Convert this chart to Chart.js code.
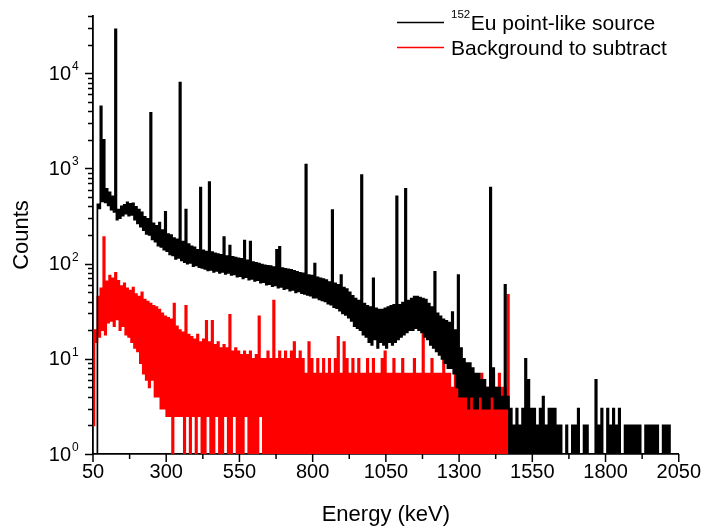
<!DOCTYPE html>
<html>
<head>
<meta charset="utf-8">
<title>152Eu spectrum</title>
<script src="https://cdn.jsdelivr.net/npm/chart.js@4.4.1/dist/chart.umd.min.js"></script>
<style>
html,body{margin:0;padding:0;background:#fff;}
canvas{display:block;}
</style>
</head>
<body>
<canvas id="chart" width="707" height="530"></canvas>
<script>
// Energy grid (keV), one entry per read-off cell
const energy = [
  50,60,70,80,90,100,110,120,130,140,
  150,160,170,180,190,200,210,220,230,240,
  250,260,270,280,290,300,310,320,330,340,
  350,360,370,380,390,400,410,420,430,440,
  450,460,470,480,490,500,510,520,530,540,
  550,560,570,580,590,600,610,620,630,640,
  650,660,670,680,690,700,710,720,730,740,
  750,760,770,780,790,800,810,820,830,840,
  850,860,870,880,890,900,910,920,930,940,
  950,960,970,980,990,1000,1010,1020,1030,1040,
  1050,1060,1070,1080,1090,1100,1110,1120,1130,1140,
  1150,1160,1170,1180,1190,1200,1210,1220,1230,1240,
  1250,1260,1270,1280,1290,1300,1310,1320,1330,1340,
  1350,1360,1370,1380,1390,1400,1410,1420,1430,1440,
  1450,1460,1470,1480,1490,1500,1510,1520,1530,1540,
  1550,1560,1570,1580,1590,1600,1610,1620,1630,1640,
  1650,1660,1670,1680,1690,1700,1710,1720,1730,1740,
  1750,1760,1770,1780,1790,1800,1810,1820,1830,1840,
  1850,1860,1870,1880,1890,1900,1910,1920,1930,1940,
  1950,1960,1970,1980,1990,2000,2010,2020,2030,2040,
  2050
];

// 152Eu point-like source: lower / upper edge of the counts in each cell (0.5 = no counts)
const sourceLow = [
  0.5,0.5,380,450,440,410,370,350,290,300,
  320,335,320,325,290,265,245,225,205,200,
  180,170,155,150,140,135,125,122,112,115,
  108,104,100,102,94,96,92,90,88,85,
  86,82,84,80,82,78,80,76,77,73,
  74,70,72,68,69,66,67,63,64,60,
  61,58,59,56,57,54,55,52,53,50,
  51,49,48,47,46,44,44,42,41,40,
  38,37,35,34,32,30,29,27,25,22,
  21,20,18,17,15,14,16,13,15,14,
  13,15,14,15,16,17,18,19,20,20,
  21,20,19,17,16,14,13,12,11,10,
  9,8,8,7,5,4,4,4,3,4,
  3,3,4,3,3,3,4,3,3,3,
  3,3,0.5,0.5,0.5,0.5,0.5,0.5,0.5,0.5,
  0.5,0.5,0.5,0.5,0.5,0.5,0.5,0.5,0.5,0.5,
  0.5,0.5,0.5,0.5,0.5,0.5,0.5,0.5,0.5,0.5,
  0.5,0.5,0.5,0.5,0.5,0.5,0.5,0.5,0.5,0.5,
  0.5,0.5,0.5,0.5,0.5,0.5,0.5,0.5,0.5,0.5,
  0.5,0.5,0.5,0.5,0.5,0.5,0.5,0.5,0.5,0.5,
  0.5
];
const sourceHigh = [
  0.5,420,4500,2000,610,560,510,29000,370,400,
  415,440,425,430,395,370,345,310,295,3850,
  265,250,270,225,350,205,200,185,180,8000,
  170,370,160,152,148,140,630,138,134,720,
  132,128,126,124,190,120,155,118,116,114,
  112,175,108,170,104,102,100,98,96,95,
  94,92,140,150,90,88,87,86,84,82,
  80,79,1100,76,75,100,72,70,69,67,
  64,365,62,60,76,56,54,50,46,43,
  41,850,38,36,35,70,34,33,33,34,
  35,36,37,510,37,39,610,41,43,45,
  45,44,43,42,38,35,82,30,28,26,
  25,24,31,20,76,13,10,9,9,8,
  7,7,6,6,5,630,8,5,5,4,
  60,4,3,2,3,2,3,10,6,3,
  3,2,3,4,2,3,3,3,2,2,
  0.5,2,0.5,2,2,3,0.5,2,2,0.5,
  0.5,6,2,3,0.5,3,2,3,2,3,
  0.5,2,2,2,2,2,2,0.5,2,2,
  2,2,2,0.5,2,2,2,0.5,0.5,0.5,
  0.5
];

// Background to subtract
const backgroundLow = [
  2,15,17,20,18,24,25,22,26,20,
  22,18,17,15,13,12,9,7,6,5,
  6,4,4,3,3,2.5,2.5,0.5,2.5,2.5,
  2.5,0.5,2.5,0.5,2.5,0.5,2.5,0.5,0.5,2.5,
  0.5,0.5,2.5,0.5,0.5,2.5,0.5,0.5,2.5,0.5,
  0.5,0.5,2.5,0.5,0.5,0.5,0.5,2.5,0.5,0.5,
  0.5,0.5,0.5,0.5,0.5,0.5,0.5,0.5,0.5,0.5,
  0.5,0.5,0.5,0.5,0.5,0.5,0.5,0.5,0.5,0.5,
  0.5,0.5,0.5,0.5,0.5,0.5,0.5,0.5,0.5,0.5,
  0.5,0.5,0.5,0.5,0.5,0.5,0.5,0.5,0.5,0.5,
  0.5,0.5,0.5,0.5,0.5,0.5,0.5,0.5,0.5,0.5,
  0.5,0.5,0.5,0.5,0.5,0.5,0.5,0.5,0.5,0.5,
  0.5,0.5,0.5,0.5,0.5,0.5,0.5,0.5,0.5,0.5,
  0.5,0.5,0.5,0.5,0.5,0.5,0.5,0.5,0.5,0.5,
  0.5,0.5,0.5,0.5,0.5,0.5,0.5,0.5,0.5,0.5,
  0.5,0.5,0.5,0.5,0.5,0.5,0.5,0.5,0.5,0.5,
  0.5,0.5,0.5,0.5,0.5,0.5,0.5,0.5,0.5,0.5,
  0.5,0.5,0.5,0.5,0.5,0.5,0.5,0.5,0.5,0.5,
  0.5,0.5,0.5,0.5,0.5,0.5,0.5,0.5,0.5,0.5,
  0.5,0.5,0.5,0.5,0.5,0.5,0.5,0.5,0.5,0.5,
  0.5
];
const backgroundHigh = [
  20,45,55,190,65,75,70,80,66,58,
  62,55,52,56,48,45,50,42,40,38,
  36,35,33,30,28,27,26,38,22,20,
  19,36,18,17,16,18,15,16,25,15,
  25,14,15,13,14,13,29,12,13,12,
  11,12,11,12,10,11,28,10,10,12,
  10,41,10,12,10,12,10,12,15,10,
  12,10,7,15,10,7,10,7,10,7,
  10,7,10,17,7,15,10,7,10,7,
  10,7,7,10,7,10,7,7,10,12,
  7,7,10,7,7,10,7,7,7,10,
  7,7,20,7,7,10,7,7,7,10,
  7,7,5,7,5,5,7,5,5,7,
  5,5,7,5,5,5,7,5,7,5,
  5,47,0.5,0.5,0.5,0.5,0.5,0.5,0.5,0.5,
  0.5,0.5,0.5,0.5,0.5,0.5,0.5,0.5,0.5,0.5,
  0.5,0.5,0.5,0.5,0.5,0.5,0.5,0.5,0.5,0.5,
  0.5,0.5,0.5,0.5,0.5,0.5,0.5,0.5,0.5,0.5,
  0.5,0.5,0.5,0.5,0.5,0.5,0.5,0.5,0.5,0.5,
  0.5,0.5,0.5,0.5,0.5,0.5,0.5,0.5,0.5,0.5,
  0.5
];

const seriesNames = ['Eu point-like source', 'Background to subtract'];
const seriesSuperscripts = ['152', ''];
const seriesColors = ['#000000', '#ff0000'];
const yTickValues = [1, 10, 100, 1000, 10000];
const yTickBase = ['10', '10', '10', '10', '10'];
const yTickExponents = ['0', '1', '2', '3', '4'];
const xTitle = 'Energy (keV)';
const yTitle = 'Counts';

[sourceLow, sourceHigh, backgroundLow, backgroundHigh].forEach(a => {
  if (a.length !== energy.length) throw new Error('length mismatch ' + a.length);
});

const FONT = '"Liberation Sans", Arial, Helvetica, sans-serif';

function spectrumPoints(E, lo, hi) {
  const half = (E[1] - E[0]) / 2;
  const pts = [];
  for (let i = 0; i < E.length; i++) {
    pts.push({x: E[i], y: lo[i]});
    pts.push({x: E[i] + half, y: hi[i]});
  }
  return pts;
}

const decor = {
  id: 'decor',
  afterDraw(chart) {
    const {ctx, chartArea: a, scales: {x, y}} = chart;
    ctx.save();
    ctx.strokeStyle = '#000';
    ctx.lineWidth = 1.5;
    const seg = (x1, y1, x2, y2) => { ctx.beginPath(); ctx.moveTo(x1, y1); ctx.lineTo(x2, y2); ctx.stroke(); };
    // x ticks (major + minor between)
    const xt = x.ticks.map(t => t.value);
    xt.forEach(v => { const p = x.getPixelForValue(v); seg(p, a.bottom, p, a.bottom + 8); });
    for (let i = 0; i < xt.length - 1; i++) {
      const p = x.getPixelForValue((xt[i] + xt[i + 1]) / 2);
      seg(p, a.bottom, p, a.bottom + 5);
    }
    // y ticks
    for (let d = 0; d <= 4; d++) {
      for (let m = 1; m <= 9; m++) {
        const v = m * Math.pow(10, d);
        if (v > y.max + 1e-6) continue;
        const p = Math.round(y.getPixelForValue(v)) + 0.5;
        seg(a.left, p, a.left - (m === 1 ? 8 : 5), p);
      }
    }
    // y tick labels with superscript exponent
    ctx.fillStyle = '#000';
    yTickValues.forEach((v, i) => {
      const p = y.getPixelForValue(v);
      ctx.font = '20px ' + FONT;
      ctx.textAlign = 'right';
      ctx.textBaseline = 'middle';
      ctx.fillText(yTickBase[i], 71, p + 1);
      ctx.font = '12px ' + FONT;
      ctx.textAlign = 'left';
      ctx.textBaseline = 'alphabetic';
      ctx.fillText(yTickExponents[i], 72, p - 3);
    });
    // legend
    const rows = [22.5, 47.5];
    rows.forEach((ry, i) => {
      ctx.fillStyle = seriesColors[i];
      ctx.fillRect(397, ry - 0.75, 47, 1.5);
      let tx = 451;
      ctx.fillStyle = '#000';
      ctx.textAlign = 'left';
      ctx.textBaseline = 'alphabetic';
      if (seriesSuperscripts[i]) {
        ctx.font = '11.5px ' + FONT;
        ctx.fillText(seriesSuperscripts[i], tx, ry - 5);
        tx += ctx.measureText(seriesSuperscripts[i]).width + 0.5;
      }
      ctx.font = '21px ' + FONT;
      ctx.fillText(seriesNames[i], tx, ry + 7.5);
    });
    ctx.restore();
  }
};

new Chart(document.getElementById('chart').getContext('2d'), {
  type: 'line',
  data: {
    datasets: [
      {
        label: seriesSuperscripts[0] + seriesNames[0],
        data: spectrumPoints(energy, sourceLow, sourceHigh),
        borderColor: seriesColors[0], borderWidth: 1.7,
        pointRadius: 0, stepped: true, fill: false, tension: 0
      },
      {
        label: seriesNames[1],
        data: spectrumPoints(energy, backgroundLow, backgroundHigh),
        borderColor: seriesColors[1], borderWidth: 1.7,
        pointRadius: 0, stepped: true, fill: false, tension: 0
      }
    ]
  },
  options: {
    responsive: false,
    animation: false,
    events: [],
    layout: {padding: {top: 16, right: 25, left: 0, bottom: 0}},
    plugins: {legend: {display: false}, tooltip: {enabled: false}},
    scales: {
      x: {
        type: 'linear', min: 50, max: 2050,
        ticks: {stepSize: 250, autoSkip: false, maxRotation: 0, padding: 6, color: '#000', font: {family: FONT, size: 20},
                callback: v => String(v)},
        grid: {display: false, drawTicks: false},
        border: {display: true, color: '#000', width: 1.8},
        title: {display: true, text: xTitle, color: '#000', font: {family: FONT, size: 22}, padding: {top: 0, bottom: 2}},
        afterFit(s) { s.height = 76; }
      },
      y: {
        type: 'logarithmic', min: 1, max: 40000,
        ticks: {display: false},
        grid: {display: false, drawTicks: false},
        border: {display: true, color: '#000', width: 1.8},
        title: {display: true, text: yTitle, color: '#000', font: {family: FONT, size: 22}, padding: {top: 9, bottom: 0}},
        afterFit(s) { s.width = 93; }
      }
    }
  },
  plugins: [decor]
});
</script>
</body>
</html>
